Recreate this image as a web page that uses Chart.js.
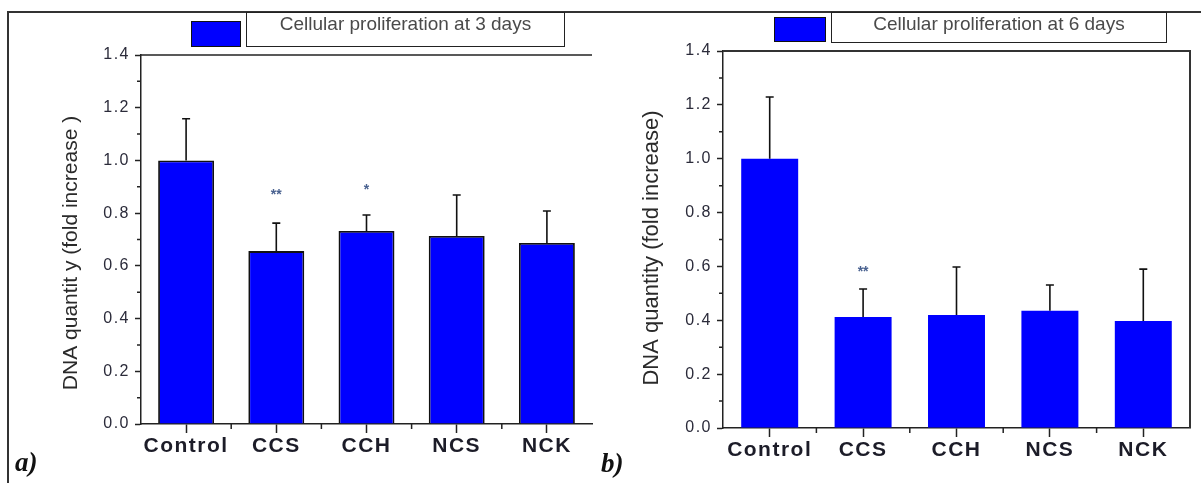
<!DOCTYPE html>
<html>
<head>
<meta charset="utf-8">
<script src="https://cdn.jsdelivr.net/npm/chart.js@4.4.1/dist/chart.umd.min.js"></script>
<style>
  body { margin: 0; background: #fff; }
  #wrap { position: relative; width: 1201px; height: 483px; overflow: hidden; }
  canvas { position: absolute; top: 0; }
  #c1 { left: 0; }
  #c2 { left: 600px; }
  .frame { position: absolute; left: 7px; top: 11px; width: 1200px; height: 480px;
           border-top: 2px solid #333; border-left: 2px solid #333; }
  .swatch { position: absolute; background: #0000ff; border: 1.5px solid #111; box-sizing: border-box; }
  .legbox { position: absolute; border: 1.5px solid #222; box-sizing: border-box; background: #fff;
            color: #4a4a4a; font: 19px "Liberation Sans", Arial, sans-serif;
            text-align: center; line-height: 22px; }
  .tag { position: absolute; font: italic bold 27px "Liberation Serif", serif; color: #111; }
</style>
</head>
<body>
<div id="wrap">
  <div class="frame"></div>
  <canvas id="c1" width="600" height="483"></canvas>
  <canvas id="c2" width="601" height="483"></canvas>
  <div class="swatch" style="left:191px;top:21px;width:50px;height:26px;"></div>
  <div class="legbox" id="leg1" style="left:246px;top:12px;width:319px;height:35px;"></div>
  <div class="swatch" style="left:774px;top:17px;width:52px;height:25px;"></div>
  <div class="legbox" id="leg2" style="left:831px;top:12px;width:336px;height:31px;"></div>
  <div class="tag" style="left:15px;top:447px;">a)</div>
  <div class="tag" style="left:601px;top:448px;">b)</div>
</div>
<script>
const categories = ['Control', 'CCS', 'CCH', 'NCS', 'NCK'];

const day3Label = 'Cellular proliferation at 3 days';
const day3Mean = [1.0, 0.656, 0.732, 0.713, 0.687];
const day3Err = [0.158, 0.106, 0.061, 0.156, 0.121];
const day3Marks = ['', '**', '*', '', ''];
const day3MarkAt = [null, 0.88, 0.90, null, null];

const day6Label = 'Cellular proliferation at 6 days';
const day6Mean = [1.0, 0.412, 0.42, 0.435, 0.397];
const day6Err = [0.229, 0.104, 0.178, 0.096, 0.193];
const day6Marks = ['', '**', '', '', ''];
const day6MarkAt = [null, 0.59, null, null, null];

const yMin = 0;
const yMax = 1.4;
const yStep = 0.1;

const BLUE = '#0000ff';
const INK = '#222';

document.getElementById('leg1').textContent = day3Label;
document.getElementById('leg2').textContent = day6Label;

// axis box, minor ticks, error bars, stars and rotated y title
const panelDecor = {
  id: 'panelDecor',
  beforeDraw(chart) {
    // spaced-out axis lettering as in the original figure
    chart.ctx.letterSpacing = '1.5px';
  },
  beforeDatasetsDraw(chart) {
    chart.ctx.letterSpacing = '0px';
  },
  afterDatasetsDraw(chart, args, o) {
    const ctx = chart.ctx;
    const y = chart.scales.y;
    const meta = chart.getDatasetMeta(0);
    ctx.save();
    ctx.strokeStyle = '#111';
    ctx.lineWidth = 1.6;
    meta.data.forEach((bar, i) => {
      const top = y.getPixelForValue(o.mean[i] + o.err[i]);
      ctx.beginPath();
      ctx.moveTo(bar.x, bar.y);
      ctx.lineTo(bar.x, top);
      ctx.moveTo(bar.x - 4, top);
      ctx.lineTo(bar.x + 4, top);
      ctx.stroke();
    });
    ctx.fillStyle = '#4a6290';
    ctx.font = 'bold 14px "Liberation Sans", Arial, sans-serif';
    ctx.textAlign = 'center';
    ctx.textBaseline = 'middle';
    meta.data.forEach((bar, i) => {
      if (o.marks[i]) ctx.fillText(o.marks[i], bar.x, y.getPixelForValue(o.markAt[i]) + 3);
    });
    ctx.restore();
  },
  afterDraw(chart, args, o) {
    const {ctx, chartArea: a, scales: {x, y}} = chart;
    ctx.save();
    ctx.strokeStyle = o.boxColor;
    ctx.lineWidth = o.boxWidth;
    ctx.beginPath();
    ctx.moveTo(a.left, a.top);
    ctx.lineTo(a.right, a.top);
    if (o.boxed) ctx.lineTo(a.right, a.bottom);
    ctx.stroke();

    ctx.strokeStyle = INK;
    ctx.lineWidth = 1.5;
    ctx.beginPath();
    for (let k = 1; k < 14; k += 2) {
      const py = y.getPixelForValue(k * yStep);
      ctx.moveTo(a.left - 4, py);
      ctx.lineTo(a.left, py);
    }
    for (let i = 1; i < categories.length; i++) {
      const px = x.getPixelForValue(i - 0.5);
      ctx.moveTo(px, a.bottom);
      ctx.lineTo(px, a.bottom + 5);
    }
    ctx.stroke();

    ctx.fillStyle = '#2a2a2a';
    ctx.font = o.titleFont;
    ctx.textAlign = 'center';
    ctx.textBaseline = 'middle';
    ctx.translate(o.titleX, o.titleY);
    ctx.rotate(-Math.PI / 2);
    ctx.fillText(o.title, 0, 0);
    ctx.restore();
  }
};

function makePanel(id, cfg) {
  return new Chart(document.getElementById(id), {
    type: 'bar',
    data: {
      labels: categories,
      datasets: [{
        label: cfg.label,
        data: cfg.mean,
        backgroundColor: BLUE,
        borderColor: '#111',
        borderWidth: cfg.barBorder,
        borderSkipped: 'bottom',
        categoryPercentage: 1,
        barPercentage: cfg.barPct
      }]
    },
    options: {
      responsive: false,
      animation: false,
      layout: { padding: cfg.padding },
      plugins: {
        legend: { display: false },
        tooltip: { enabled: false },
        panelDecor: {
          mean: cfg.mean, err: cfg.err, marks: cfg.marks, markAt: cfg.markAt,
          boxed: cfg.boxed, boxColor: cfg.boxColor, boxWidth: cfg.boxWidth,
          title: cfg.title, titleFont: cfg.titleFont, titleX: cfg.titleX, titleY: cfg.titleY
        }
      },
      scales: {
        x: {
          ticks: {
            font: { family: '"Liberation Sans", Arial, sans-serif', size: 21, weight: 'bold' },
            color: '#1c1c28',
            padding: 1,
            maxRotation: 0,
            autoSkip: false
          },
          grid: { drawOnChartArea: false, offset: false, tickLength: 9, tickWidth: 1.5, tickColor: INK },
          border: { color: INK, width: 1.5 },
          afterFit: s => { s.height = cfg.xHeight; }
        },
        y: {
          min: yMin,
          max: yMax,
          ticks: {
            stepSize: yStep,
            autoSkip: false,
            font: { family: '"Liberation Sans", Arial, sans-serif', size: 16 },
            color: '#2b2b3a',
            padding: 5,
            callback: v => (Math.round(v * 10) % 2 === 0 ? v.toFixed(1) : '')
          },
          grid: {
            drawOnChartArea: false,
            tickLength: 6,
            tickWidth: 1.5,
            tickColor: c => (Math.round(c.tick.value * 10) % 2 === 0 ? INK : 'rgba(0,0,0,0)')
          },
          border: { color: INK, width: 1.5 },
          afterFit: s => { s.width = cfg.yWidth; }
        }
      }
    },
    plugins: [panelDecor]
  });
}

makePanel('c1', {
  label: day3Label, mean: day3Mean, err: day3Err, marks: day3Marks, markAt: day3MarkAt,
  barBorder: 1.8, barPct: 0.62,
  padding: { left: 0, right: 8, top: 55, bottom: 0 }, yWidth: 141, xHeight: 59,
  boxed: false, boxColor: INK, boxWidth: 1.5,
  title: 'DNA quantit y (fold increase )', titleFont: '21px "Liberation Sans", Arial, sans-serif',
  titleX: 71, titleY: 253
});

makePanel('c2', {
  label: day6Label, mean: day6Mean, err: day6Err, marks: day6Marks, markAt: day6MarkAt,
  barBorder: 0, barPct: 0.61,
  padding: { left: 0, right: 11, top: 51, bottom: 0 }, yWidth: 123, xHeight: 55,
  boxed: true, boxColor: '#333', boxWidth: 2,
  title: 'DNA quantity (fold increase)', titleFont: '22px "Liberation Sans", Arial, sans-serif',
  titleX: 52, titleY: 248
});
</script>
</body>
</html>
